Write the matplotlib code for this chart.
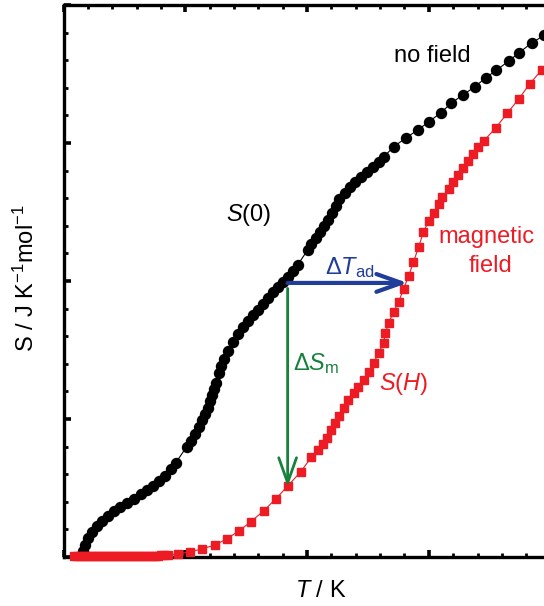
import matplotlib
matplotlib.use('Agg')
import matplotlib.pyplot as plt
from matplotlib.patches import FancyArrowPatch
from matplotlib.ticker import MultipleLocator

plt.rcParams['font.family'] = ['Liberation Sans', 'DejaVu Sans']
plt.rcParams['mathtext.fontset'] = 'custom'
plt.rcParams['mathtext.rm'] = 'Liberation Sans'
plt.rcParams['mathtext.it'] = 'Liberation Sans:italic'

# entropy without field, S(0)
T_zero = [0.78, 0.86, 0.99, 1.15, 1.36, 1.56, 1.81, 2.05, 2.30, 2.59, 2.87, 3.16, 3.41, 3.66, 3.90, 4.15, 4.39, 4.60,
          5.05, 5.22, 5.38, 5.54, 5.67, 5.79, 5.91, 6.00, 6.08, 6.16, 6.24, 6.37, 6.45, 6.57, 6.74, 6.94, 7.15, 7.35,
          7.56, 7.76, 7.97, 8.17, 8.38, 8.58, 8.79, 8.99, 9.20, 9.40, 9.61,
          10.02, 10.18, 10.35, 10.51, 10.68, 10.84, 11.01, 11.17, 11.33, 11.54, 11.75, 11.95, 12.20, 12.44, 12.69,
          12.94, 13.14,
          13.55, 14.05, 14.54, 14.99, 15.48, 15.93, 16.39, 16.88, 17.33, 17.78, 18.28, 18.69, 19.22, 19.75]
S_zero = [0.22, 0.43, 0.69, 0.91, 1.12, 1.30, 1.49, 1.67, 1.81, 1.96, 2.10, 2.28, 2.43, 2.57, 2.75, 2.93, 3.19, 3.41,
          3.99, 4.20, 4.46, 4.71, 4.96, 5.18, 5.40, 5.65, 5.87, 6.09, 6.30, 6.67, 6.92, 7.17, 7.46, 7.79, 8.08, 8.33,
          8.55, 8.77, 8.95, 9.17, 9.38, 9.60, 9.78, 9.96, 10.14, 10.36, 10.58,
          11.12, 11.34, 11.56, 11.78, 11.99, 12.21, 12.46, 12.72, 12.97, 13.19, 13.41, 13.59, 13.77, 13.95, 14.13,
          14.31, 14.49,
          14.86, 15.18, 15.47, 15.76, 16.09, 16.45, 16.74, 17.03, 17.36, 17.64, 17.97, 18.26, 18.62, 18.91]

# entropy in magnetic field, S(H)
T_field = [0.41, 0.53, 0.66, 0.78, 0.90, 1.03, 1.15, 1.27, 1.40, 1.52, 1.64, 1.77, 1.89, 2.01, 2.14, 2.26, 2.38,
           2.51, 2.63, 2.75, 2.87, 3.00, 3.12, 3.25, 3.37, 3.49, 3.61, 3.74, 3.86, 3.98, 4.11, 4.27,
           4.68, 5.17, 5.67, 6.20, 6.69, 7.19, 7.68, 8.21, 8.71, 9.20, 9.73, 10.18, 10.43, 10.64, 10.80, 10.97,
           11.13, 11.29, 11.50, 11.70, 11.91, 12.11, 12.32, 12.53, 12.73, 12.94, 13.14, 13.22, 13.35, 13.55, 13.76,
           13.96, 14.17, 14.37, 14.58, 14.78, 14.99, 15.20, 15.40, 15.56, 15.81, 15.98, 16.18, 16.39, 16.59, 16.80,
           17.00, 17.25, 17.74, 18.23, 18.69, 19.14, 19.63]
S_field = [0.03, 0.03, 0.03, 0.03, 0.03, 0.03, 0.03, 0.03, 0.03, 0.03, 0.03, 0.03, 0.03, 0.03, 0.03, 0.03, 0.03,
           0.03, 0.03, 0.03, 0.03, 0.04, 0.04, 0.04, 0.04, 0.05, 0.05, 0.05, 0.05, 0.06, 0.06, 0.07,
           0.11, 0.18, 0.29, 0.43, 0.65, 0.94, 1.27, 1.67, 2.10, 2.57, 3.08, 3.62, 3.88, 4.09, 4.31, 4.60,
           4.86, 5.11, 5.40, 5.69, 5.94, 6.16, 6.41, 6.70, 7.03, 7.39, 7.75, 8.12, 8.48, 8.88, 9.24,
           9.71, 10.18, 10.69, 11.23, 11.78, 12.17, 12.46, 12.79, 13.04, 13.33, 13.59, 13.84, 14.09, 14.35, 14.60,
           14.86, 15.07, 15.54, 16.09, 16.59, 17.14, 17.64]

# arrows: start point and ends
T_start, S_start = 9.20, 9.93
T_end_ad = 14.13
S_end_m = 2.54

red = '#ed1c24'
blue = '#1f3d99'
green = '#17803d'

fig = plt.figure(figsize=(5.44, 6.06), dpi=100)
ax = fig.add_axes([0.1171, 0.0809, 0.8949, 0.9108])
ax.set_xlim(0, 20)
ax.set_ylim(0, 20)

ax.plot(T_zero, S_zero, '-', color='black', lw=0.8, marker='o', ms=7.2, mec='black', mfc='black',
        clip_on=False, zorder=4)
ax.plot(T_field, S_field, '-', color=red, lw=0.8, marker='s', ms=5.8, mec=red, mfc=red,
        clip_on=False, zorder=5)

arr = FancyArrowPatch((T_start, S_start), (T_end_ad, S_start), arrowstyle='->,head_length=0.9,head_width=0.32',
                      mutation_scale=20, color=blue, lw=3, shrinkA=0, shrinkB=0, zorder=6)
ax.add_patch(arr)
arr = FancyArrowPatch((T_start, S_start - 0.2), (T_start, S_end_m), arrowstyle='->,head_length=0.9,head_width=0.32',
                      mutation_scale=20, color=green, lw=2, shrinkA=0, shrinkB=0, zorder=6)
ax.add_patch(arr)

fs = 17
ax.text(13.55, 17.93, 'no field', fontsize=fs, color='black', ha='left', va='baseline')
ax.text(17.37, 11.38, 'magnetic', fontsize=fs, color=red, ha='center', va='baseline')
ax.text(17.54, 10.33, 'field', fontsize=fs, color=red, ha='center', va='baseline')
ax.text(6.65, 12.17, r'$S$(0)', fontsize=fs, color='black', ha='left', va='baseline')
ax.text(12.94, 6.05, r'$S$($H$)', fontsize=fs, color=red, ha='left', va='baseline')
ax.text(10.72, 10.25, r'$\Delta T_{\rm ad}$', fontsize=fs, color=blue, ha='left', va='baseline')
ax.text(9.40, 6.78, r'$\Delta S_{\rm m}$', fontsize=fs, color=green, ha='left', va='baseline')

fig.text(0.590, 0.0248, r'$T$ / K', fontsize=fs, ha='center', va='center')
fig.text(0.048, 0.541, r'S / J K$^{-1}$mol$^{-1}$', fontsize=fs, ha='center', va='center', rotation=90)

for s in ax.spines.values():
    s.set_linewidth(2.4)
ax.xaxis.set_major_locator(MultipleLocator(5))
ax.xaxis.set_minor_locator(MultipleLocator(1))
ax.yaxis.set_major_locator(MultipleLocator(5))
ax.yaxis.set_minor_locator(MultipleLocator(1))
ax.tick_params(which='both', direction='in', top=True, right=True, labelbottom=False, labelleft=False)
ax.tick_params(which='major', length=5.3, width=2.6)
ax.tick_params(which='minor', length=3.1, width=2.0)

fig.savefig('out.png', dpi=100)
